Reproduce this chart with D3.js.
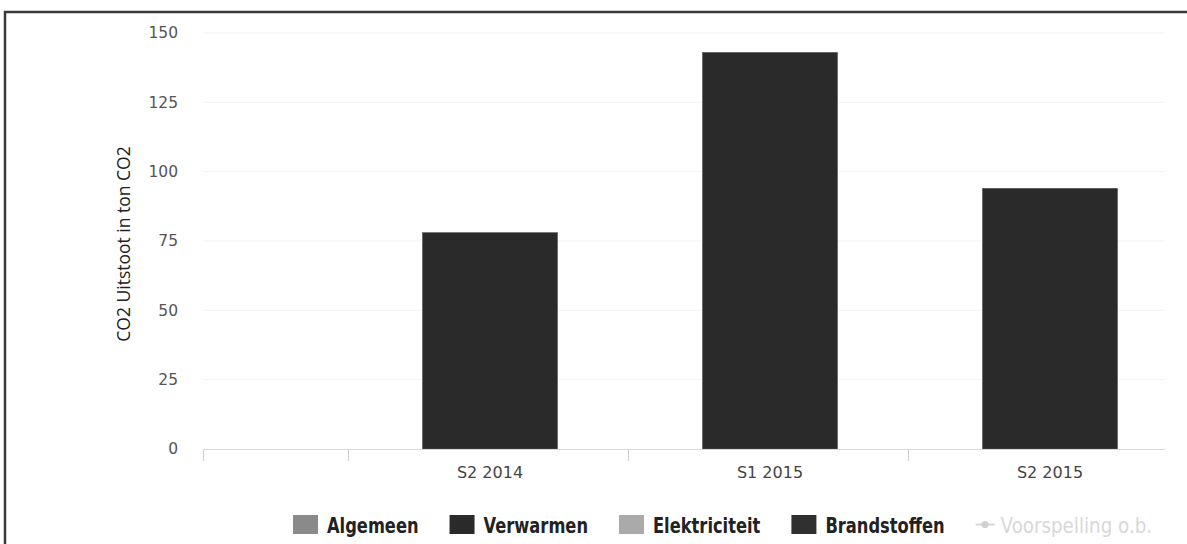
<!DOCTYPE html>
<html>
<head>
<meta charset="utf-8">
<script src="https://cdn.jsdelivr.net/npm/d3@7"></script>
<style>
  html, body { margin: 0; padding: 0; background: #fff; }
  svg { display: block; }
</style>
</head>
<body>
<svg id="chart" width="1187" height="544"></svg>
<script>
// Half-year periods shown on the x axis (a leading empty slot keeps the first bar off the axis start)
const categories = ["", "S2 2014", "S1 2015", "S2 2015"];

// CO2 emissions per source, in tonnes
const algemeen      = [0, 0, 0, 0];
const verwarmen     = [0, 78, 143, 94];
const elektriciteit = [0, 0, 0, 0];
const brandstoffen  = [0, 0, 0, 0];

const yTicks = [0, 25, 50, 75, 100, 125, 150];

const seriesNames  = ["Algemeen", "Verwarmen", "Elektriciteit", "Brandstoffen"];
const seriesColors = ["#8a8a8a", "#2a2a2a", "#aaaaaa", "#303030"];
const forecastName = "Voorspelling o.b.";

const svg = d3.select("#chart");
const W = 1187, H = 544;
const plot = { left: 203, right: 1165, top: 33, bottom: 449 };

// page frame
svg.append("path")
  .attr("d", `M5,${H} L5,12 L${W},12`)
  .attr("fill", "none")
  .attr("stroke", "#3a3a3a")
  .attr("stroke-width", 2.5);

const x = d3.scaleBand()
  .domain(categories)
  .range([68, 1188])
  .paddingInner(0)
  .paddingOuter(0);

const y = d3.scaleLinear()
  .domain([0, 150])
  .range([plot.bottom, plot.top]);

// faint horizontal grid
svg.append("g")
  .selectAll("line")
  .data(yTicks.filter(d => d > 0))
  .join("line")
  .attr("x1", plot.left).attr("x2", plot.right)
  .attr("y1", d => y(d)).attr("y2", d => y(d))
  .attr("stroke", "#f3f3f3")
  .attr("stroke-width", 1);

// y axis labels
const yAxis = d3.axisLeft(y).tickValues(yTicks).tickSize(0).tickPadding(0);
const gy = svg.append("g")
  .attr("transform", `translate(178,0)`)
  .call(yAxis);
gy.select(".domain").remove();
gy.selectAll("text")
  .attr("font-family", "'DejaVu Sans', sans-serif")
  .attr("font-size", 15.5)
  .attr("fill", "#555");

// y axis title
svg.append("text")
  .attr("transform", `translate(130,${(plot.top + plot.bottom) / 2 + 3}) rotate(-90)`)
  .attr("text-anchor", "middle")
  .attr("font-family", "'Open Sans', 'DejaVu Sans', sans-serif")
  .attr("font-size", 17.5)
  .attr("fill", "#222")
  .text("CO2 Uitstoot in ton CO2");

// stacked bars
const rows = categories.map((c, i) => ({
  cat: c,
  Algemeen: algemeen[i],
  Verwarmen: verwarmen[i],
  Elektriciteit: elektriciteit[i],
  Brandstoffen: brandstoffen[i]
}));
const stacked = d3.stack().keys(seriesNames)(rows);
const barW = 135;

svg.append("g")
  .selectAll("g")
  .data(stacked)
  .join("g")
  .attr("fill", (d, i) => seriesColors[i])
  .selectAll("rect")
  .data(d => d.filter(p => p[1] - p[0] > 0))
  .join("rect")
  .attr("x", d => x(d.data.cat) + x.bandwidth() / 2 - barW / 2 + 2)
  .attr("width", barW)
  .attr("y", d => y(d[1]))
  .attr("height", d => y(d[0]) - y(d[1]))
  .attr("stroke", "#555")
  .attr("stroke-width", 0.6);

// x axis line and tick marks
svg.append("line")
  .attr("x1", plot.left).attr("x2", plot.right)
  .attr("y1", plot.bottom + 0.5).attr("y2", plot.bottom + 0.5)
  .attr("stroke", "#d8d8d8");

const tickXs = [plot.left].concat(categories.slice(1).map(c => x(c)));
svg.append("g")
  .selectAll("line")
  .data(tickXs)
  .join("line")
  .attr("x1", d => d + 0.5).attr("x2", d => d + 0.5)
  .attr("y1", plot.bottom).attr("y2", plot.bottom + 12)
  .attr("stroke", "#cfcfcf");

// category labels
svg.append("g")
  .selectAll("text")
  .data(categories.filter(c => c))
  .join("text")
  .attr("x", d => x(d) + x.bandwidth() / 2 + 2)
  .attr("y", 478)
  .attr("text-anchor", "middle")
  .attr("font-family", "'DejaVu Sans', sans-serif")
  .attr("font-size", 16)
  .attr("fill", "#444")
  .text(d => d);

// legend: items laid out left to right, narrow tall type
const squeeze = 0.776;
const itemGap = 31;
const legend = svg.append("g").attr("font-family", "'DejaVu Sans', sans-serif");
let lx = 293;
seriesNames.forEach((name, i) => {
  legend.append("rect")
    .attr("x", lx).attr("y", 515)
    .attr("width", 25).attr("height", 19)
    .attr("fill", seriesColors[i]);
  const t = legend.append("text")
    .attr("transform", `translate(${lx + 34},533) scale(${squeeze},1)`)
    .attr("font-size", 21)
    .attr("font-weight", "bold")
    .attr("fill", "#222")
    .text(name);
  lx += 34 + t.node().getComputedTextLength() * squeeze + itemGap;
});
// forecast line entry (hidden series)
legend.append("line")
  .attr("x1", lx).attr("x2", lx + 19)
  .attr("y1", 524.5).attr("y2", 524.5)
  .attr("stroke", "#d6d6d6").attr("stroke-width", 2);
legend.append("circle")
  .attr("cx", lx + 9.5).attr("cy", 524.5).attr("r", 3.5)
  .attr("fill", "#d0d0d0");
legend.append("text")
  .attr("transform", `translate(${lx + 25},533) scale(0.87,1)`)
  .attr("font-size", 21)
  .attr("fill", "#d8d8d8")
  .text(forecastName);
</script>
</body>
</html>
